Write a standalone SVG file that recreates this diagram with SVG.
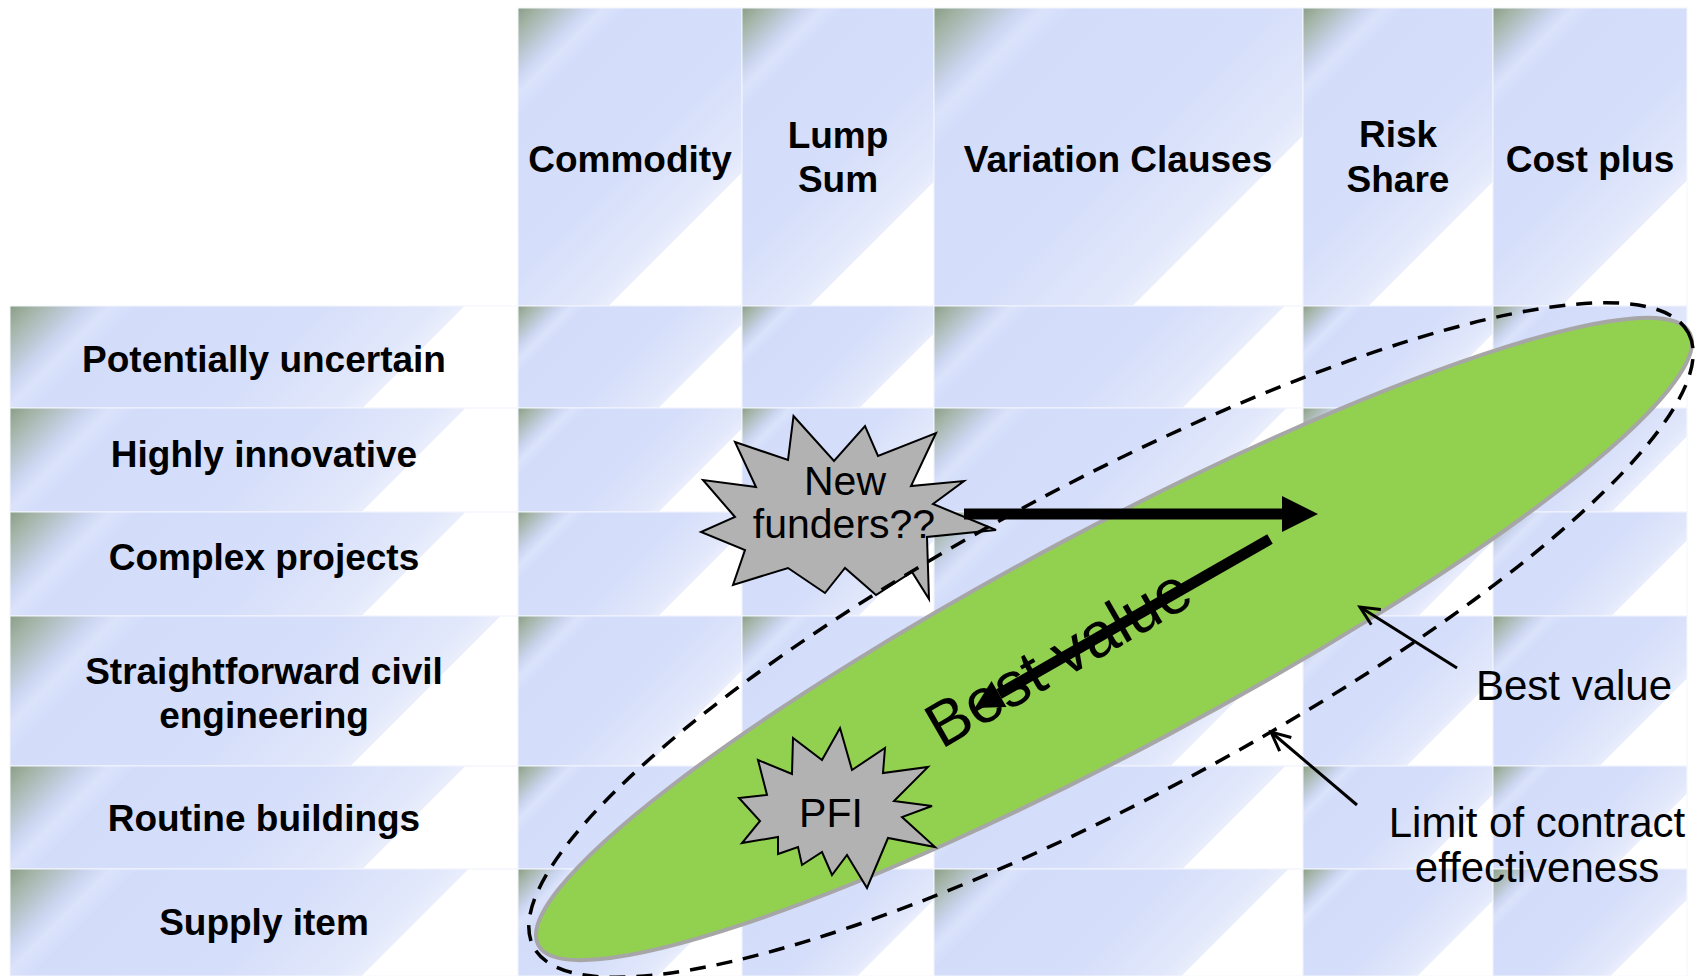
<svg xmlns="http://www.w3.org/2000/svg" width="1708" height="976" viewBox="0 0 1708 976">
<defs>
<style>
.hd{font-family:"Liberation Sans",Arial,sans-serif;font-weight:bold;font-size:37px;text-anchor:middle;fill:#000}
.tx{font-family:"Liberation Sans",Arial,sans-serif;font-size:41px;text-anchor:middle;fill:#000}
.rt{font-family:"Liberation Sans",Arial,sans-serif;font-size:42px;text-anchor:middle;fill:#000}
.cell{stroke:#f4f6fe;stroke-width:1}
.burst{fill:#b2b2b2;stroke:#000;stroke-width:2;stroke-linejoin:miter}
.thick{stroke:#000;stroke-width:11;fill:none}
.ptr{stroke:#000;stroke-width:3;fill:none}
</style>
<linearGradient id="cg">
<stop offset="0" stop-color="#8a9e88"/>
<stop offset="0.04" stop-color="#a3b3a5"/>
<stop offset="0.13" stop-color="#ccd6f1"/>
<stop offset="0.165" stop-color="#dbe3fb"/>
<stop offset="0.21" stop-color="#d3ddfa"/>
<stop offset="0.5" stop-color="#d5defa"/>
<stop offset="0.70" stop-color="#e2e8fb"/>
<stop offset="0.745" stop-color="#eaeefc"/>
<stop offset="0.745" stop-color="#fff" stop-opacity="0"/>
<stop offset="1" stop-color="#fff" stop-opacity="0"/>
</linearGradient>
<linearGradient id="gh1" href="#cg" gradientUnits="userSpaceOnUse" x1="518" y1="8" x2="779" y2="269"/>
<linearGradient id="gh2" href="#cg" gradientUnits="userSpaceOnUse" x1="742" y1="8" x2="987" y2="253"/>
<linearGradient id="gh3" href="#cg" gradientUnits="userSpaceOnUse" x1="934" y1="8" x2="1267.5" y2="341.5"/>
<linearGradient id="gh4" href="#cg" gradientUnits="userSpaceOnUse" x1="1303" y1="8" x2="1547" y2="252"/>
<linearGradient id="gh5" href="#cg" gradientUnits="userSpaceOnUse" x1="1493" y1="8" x2="1739" y2="254"/>
<linearGradient id="gL1" href="#cg" gradientUnits="userSpaceOnUse" x1="10" y1="306" x2="315" y2="611"/>
<linearGradient id="g11" href="#cg" gradientUnits="userSpaceOnUse" x1="518" y1="306" x2="681" y2="469"/>
<linearGradient id="g12" href="#cg" gradientUnits="userSpaceOnUse" x1="742" y1="306" x2="889" y2="453"/>
<linearGradient id="g13" href="#cg" gradientUnits="userSpaceOnUse" x1="934" y1="306" x2="1169.5" y2="541.5"/>
<linearGradient id="g14" href="#cg" gradientUnits="userSpaceOnUse" x1="1303" y1="306" x2="1449" y2="452"/>
<linearGradient id="g15" href="#cg" gradientUnits="userSpaceOnUse" x1="1493" y1="306" x2="1641" y2="454"/>
<linearGradient id="gL2" href="#cg" gradientUnits="userSpaceOnUse" x1="10" y1="408" x2="316" y2="714"/>
<linearGradient id="g21" href="#cg" gradientUnits="userSpaceOnUse" x1="518" y1="408" x2="682" y2="572"/>
<linearGradient id="g22" href="#cg" gradientUnits="userSpaceOnUse" x1="742" y1="408" x2="890" y2="556"/>
<linearGradient id="g23" href="#cg" gradientUnits="userSpaceOnUse" x1="934" y1="408" x2="1170.5" y2="644.5"/>
<linearGradient id="g24" href="#cg" gradientUnits="userSpaceOnUse" x1="1303" y1="408" x2="1450" y2="555"/>
<linearGradient id="g25" href="#cg" gradientUnits="userSpaceOnUse" x1="1493" y1="408" x2="1642" y2="557"/>
<linearGradient id="gL3" href="#cg" gradientUnits="userSpaceOnUse" x1="10" y1="512" x2="316" y2="818"/>
<linearGradient id="g31" href="#cg" gradientUnits="userSpaceOnUse" x1="518" y1="512" x2="682" y2="676"/>
<linearGradient id="g32" href="#cg" gradientUnits="userSpaceOnUse" x1="742" y1="512" x2="890" y2="660"/>
<linearGradient id="g33" href="#cg" gradientUnits="userSpaceOnUse" x1="934" y1="512" x2="1170.5" y2="748.5"/>
<linearGradient id="g34" href="#cg" gradientUnits="userSpaceOnUse" x1="1303" y1="512" x2="1450" y2="659"/>
<linearGradient id="g35" href="#cg" gradientUnits="userSpaceOnUse" x1="1493" y1="512" x2="1642" y2="661"/>
<linearGradient id="gL4" href="#cg" gradientUnits="userSpaceOnUse" x1="10" y1="616" x2="339" y2="945"/>
<linearGradient id="g41" href="#cg" gradientUnits="userSpaceOnUse" x1="518" y1="616" x2="705" y2="803"/>
<linearGradient id="g42" href="#cg" gradientUnits="userSpaceOnUse" x1="742" y1="616" x2="913" y2="787"/>
<linearGradient id="g43" href="#cg" gradientUnits="userSpaceOnUse" x1="934" y1="616" x2="1193.5" y2="875.5"/>
<linearGradient id="g44" href="#cg" gradientUnits="userSpaceOnUse" x1="1303" y1="616" x2="1473" y2="786"/>
<linearGradient id="g45" href="#cg" gradientUnits="userSpaceOnUse" x1="1493" y1="616" x2="1665" y2="788"/>
<linearGradient id="gL5" href="#cg" gradientUnits="userSpaceOnUse" x1="10" y1="766" x2="315.5" y2="1071.5"/>
<linearGradient id="g51" href="#cg" gradientUnits="userSpaceOnUse" x1="518" y1="766" x2="681.5" y2="929.5"/>
<linearGradient id="g52" href="#cg" gradientUnits="userSpaceOnUse" x1="742" y1="766" x2="889.5" y2="913.5"/>
<linearGradient id="g53" href="#cg" gradientUnits="userSpaceOnUse" x1="934" y1="766" x2="1170" y2="1002"/>
<linearGradient id="g54" href="#cg" gradientUnits="userSpaceOnUse" x1="1303" y1="766" x2="1449.5" y2="912.5"/>
<linearGradient id="g55" href="#cg" gradientUnits="userSpaceOnUse" x1="1493" y1="766" x2="1641.5" y2="914.5"/>
<linearGradient id="gL6" href="#cg" gradientUnits="userSpaceOnUse" x1="10" y1="869" x2="317.5" y2="1176.5"/>
<linearGradient id="g61" href="#cg" gradientUnits="userSpaceOnUse" x1="518" y1="869" x2="683.5" y2="1034.5"/>
<linearGradient id="g62" href="#cg" gradientUnits="userSpaceOnUse" x1="742" y1="869" x2="891.5" y2="1018.5"/>
<linearGradient id="g63" href="#cg" gradientUnits="userSpaceOnUse" x1="934" y1="869" x2="1172" y2="1107"/>
<linearGradient id="g64" href="#cg" gradientUnits="userSpaceOnUse" x1="1303" y1="869" x2="1451.5" y2="1017.5"/>
<linearGradient id="g65" href="#cg" gradientUnits="userSpaceOnUse" x1="1493" y1="869" x2="1643.5" y2="1019.5"/>
<marker id="bigHead" markerUnits="userSpaceOnUse" markerWidth="36" markerHeight="36" viewBox="0 0 36 36" refX="0" refY="18" orient="auto" overflow="visible"><path d="M0,0 L36,18 L0,36 Z" fill="#000"/></marker>
<marker id="smallHead" markerUnits="userSpaceOnUse" markerWidth="28" markerHeight="30" viewBox="0 0 28 30" refX="0" refY="15" orient="auto" overflow="visible"><path d="M0,0 L28,15 L0,30 Z" fill="#000"/></marker>
<marker id="openHead" markerUnits="userSpaceOnUse" markerWidth="26" markerHeight="24" viewBox="-22 -12 26 24" refX="0" refY="0" orient="auto" overflow="visible"><path d="M-19,-9 L0,0 L-19,9" fill="none" stroke="#000" stroke-width="3"/></marker>
</defs>
<rect width="1708" height="976" fill="#fff"/>

<g id="header-commodity"><rect class="cell" x="518" y="8" width="224" height="298" fill="url(#gh1)"/><text class="hd" x="630" y="172">Commodity</text></g>
<g id="header-lump-sum"><rect class="cell" x="742" y="8" width="192" height="298" fill="url(#gh2)"/><text class="hd" x="838" y="148">Lump</text><text class="hd" x="838" y="192">Sum</text></g>
<g id="header-variation"><rect class="cell" x="934" y="8" width="369" height="298" fill="url(#gh3)"/><text class="hd" x="1118" y="172">Variation Clauses</text></g>
<g id="header-risk-share"><rect class="cell" x="1303" y="8" width="190" height="298" fill="url(#gh4)"/><text class="hd" x="1398" y="147">Risk</text><text class="hd" x="1398" y="192">Share</text></g>
<g id="header-cost-plus"><rect class="cell" x="1493" y="8" width="194" height="298" fill="url(#gh5)"/><text class="hd" x="1590" y="172">Cost plus</text></g>

<g id="row-potentially-uncertain"><rect class="cell" x="10" y="306" width="508" height="102" fill="url(#gL1)"/><text class="hd" x="264" y="372">Potentially uncertain</text></g>
<g id="row-highly-innovative"><rect class="cell" x="10" y="408" width="508" height="104" fill="url(#gL2)"/><text class="hd" x="264" y="467">Highly innovative</text></g>
<g id="row-complex-projects"><rect class="cell" x="10" y="512" width="508" height="104" fill="url(#gL3)"/><text class="hd" x="264" y="570">Complex projects</text></g>
<g id="row-straightforward"><rect class="cell" x="10" y="616" width="508" height="150" fill="url(#gL4)"/><text class="hd" x="264" y="684">Straightforward civil</text><text class="hd" x="264" y="728">engineering</text></g>
<g id="row-routine-buildings"><rect class="cell" x="10" y="766" width="508" height="103" fill="url(#gL5)"/><text class="hd" x="264" y="831">Routine buildings</text></g>
<g id="row-supply-item"><rect class="cell" x="10" y="869" width="508" height="107" fill="url(#gL6)"/><text class="hd" x="264" y="935">Supply item</text></g>

<g id="grid">
<rect class="cell" x="518" y="306" width="224" height="102" fill="url(#g11)"/>
<rect class="cell" x="742" y="306" width="192" height="102" fill="url(#g12)"/>
<rect class="cell" x="934" y="306" width="369" height="102" fill="url(#g13)"/>
<rect class="cell" x="1303" y="306" width="190" height="102" fill="url(#g14)"/>
<rect class="cell" x="1493" y="306" width="194" height="102" fill="url(#g15)"/>
<rect class="cell" x="518" y="408" width="224" height="104" fill="url(#g21)"/>
<rect class="cell" x="742" y="408" width="192" height="104" fill="url(#g22)"/>
<rect class="cell" x="934" y="408" width="369" height="104" fill="url(#g23)"/>
<rect class="cell" x="1303" y="408" width="190" height="104" fill="url(#g24)"/>
<rect class="cell" x="1493" y="408" width="194" height="104" fill="url(#g25)"/>
<rect class="cell" x="518" y="512" width="224" height="104" fill="url(#g31)"/>
<rect class="cell" x="742" y="512" width="192" height="104" fill="url(#g32)"/>
<rect class="cell" x="934" y="512" width="369" height="104" fill="url(#g33)"/>
<rect class="cell" x="1303" y="512" width="190" height="104" fill="url(#g34)"/>
<rect class="cell" x="1493" y="512" width="194" height="104" fill="url(#g35)"/>
<rect class="cell" x="518" y="616" width="224" height="150" fill="url(#g41)"/>
<rect class="cell" x="742" y="616" width="192" height="150" fill="url(#g42)"/>
<rect class="cell" x="934" y="616" width="369" height="150" fill="url(#g43)"/>
<rect class="cell" x="1303" y="616" width="190" height="150" fill="url(#g44)"/>
<rect class="cell" x="1493" y="616" width="194" height="150" fill="url(#g45)"/>
<rect class="cell" x="518" y="766" width="224" height="103" fill="url(#g51)"/>
<rect class="cell" x="742" y="766" width="192" height="103" fill="url(#g52)"/>
<rect class="cell" x="934" y="766" width="369" height="103" fill="url(#g53)"/>
<rect class="cell" x="1303" y="766" width="190" height="103" fill="url(#g54)"/>
<rect class="cell" x="1493" y="766" width="194" height="103" fill="url(#g55)"/>
<rect class="cell" x="518" y="869" width="224" height="107" fill="url(#g61)"/>
<rect class="cell" x="742" y="869" width="192" height="107" fill="url(#g62)"/>
<rect class="cell" x="934" y="869" width="369" height="107" fill="url(#g63)"/>
<rect class="cell" x="1303" y="869" width="190" height="107" fill="url(#g64)"/>
<rect class="cell" x="1493" y="869" width="194" height="107" fill="url(#g65)"/>
</g>

<g id="best-value-zone">
<ellipse cx="1114" cy="639" rx="652" ry="110" transform="rotate(-28 1114 639)" fill="#92d050" stroke="#a6a6a6" stroke-width="4"/>
<text x="1069" y="676" transform="rotate(-30 1069 676)" style="font-family:'Liberation Sans',Arial,sans-serif;font-size:63px;text-anchor:middle;fill:#000">Best value</text>
</g>

<g id="pfi">
<polygon class="burst" points="840,728 852,770 885,748 883,773 928,767 894,801 932,806 902,817 935,847 888,838 867,888 847,855 832,875 822,852 802,865 798,847 778,854 778,837 742,843 760,821 739,798 767,795 758,760 792,774 793,738 822,760"/>
<text class="tx" x="831" y="827">PFI</text>
</g>

<g id="new-funders">
<polygon class="burst" points="793.5,416 834,461 865,426 878,456 936,433 911,486 964,481 933,504 996,530 927,537 929,599 912,572 876,595 845,568 825,593 788,568 733,585 745,550 701,532 735,517 703,480 756,487 735,442 788,460"/>
<text class="tx" x="845" y="495">New</text>
<text class="tx" x="844" y="538">funders??</text>
</g>

<g id="limit-zone">
<ellipse cx="1111" cy="640" rx="654" ry="158" transform="rotate(-28 1111 640)" fill="none" stroke="#000" stroke-width="3.5" stroke-dasharray="16 11"/>
</g>

<g id="connectors">
<line class="thick" x1="964" y1="514" x2="1282" y2="514" marker-end="url(#bigHead)"/>
<line class="thick" x1="1270" y1="539" x2="999" y2="694" marker-end="url(#smallHead)"/>
<line class="ptr" x1="1457" y1="668" x2="1360" y2="607" marker-end="url(#openHead)"/>
<line class="ptr" x1="1357" y1="805" x2="1271" y2="732" marker-end="url(#openHead)"/>
</g>

<g id="label-best-value"><text class="rt" x="1574" y="700">Best value</text></g>
<g id="label-limit"><text class="rt" x="1537" y="837">Limit of contract</text><text class="rt" x="1537" y="882">effectiveness</text></g>
</svg>
